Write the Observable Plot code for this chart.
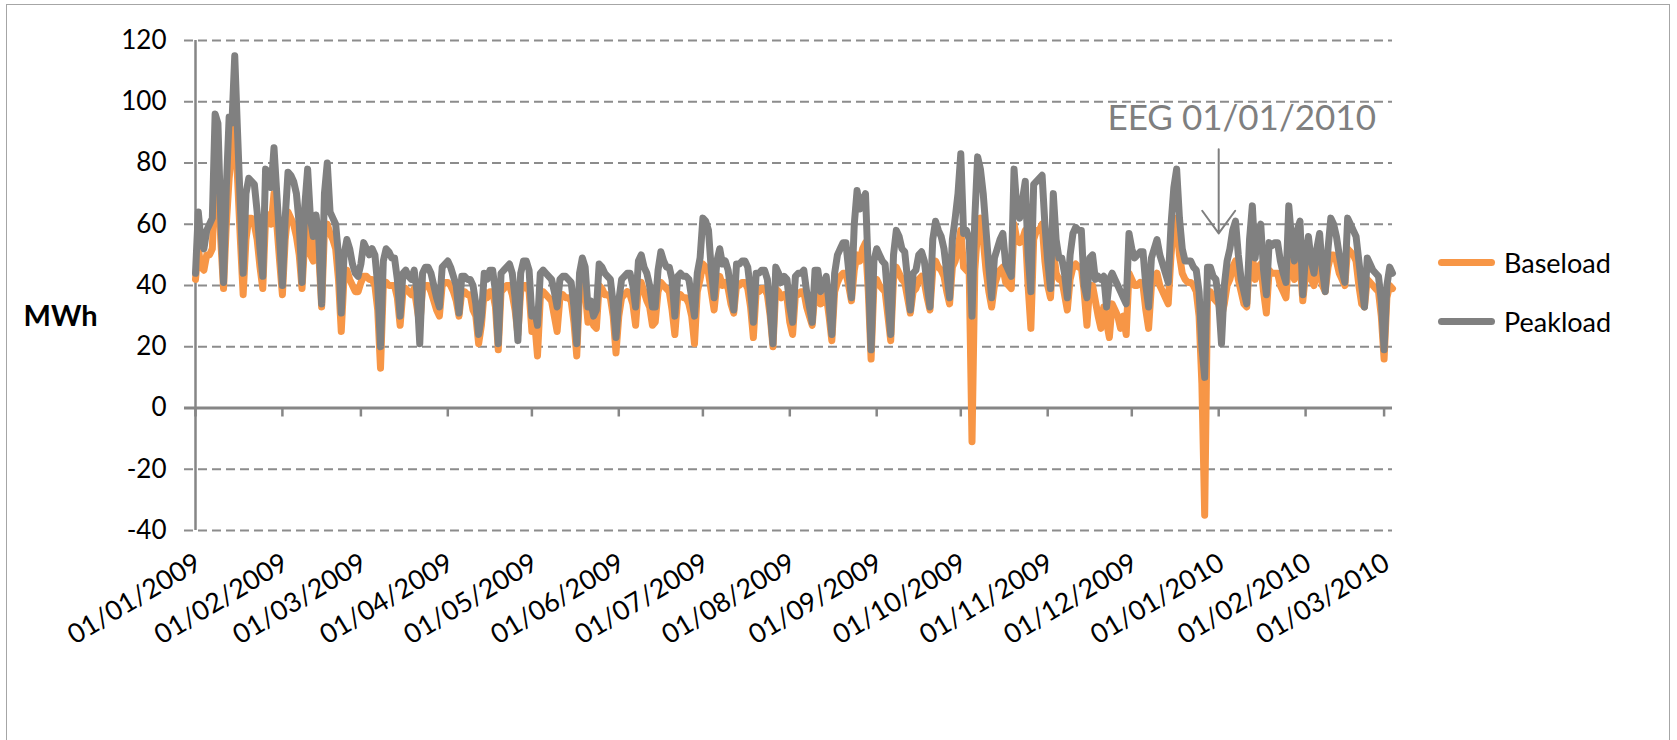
<!DOCTYPE html>
<html>
<head>
<meta charset="utf-8">
<script src="https://cdn.jsdelivr.net/npm/d3@7"></script>
<script src="https://cdn.jsdelivr.net/npm/@observablehq/plot@0.6"></script>
<style>
  html, body { margin: 0; padding: 0; background: #fff; }
  #wrap { position: relative; width: 1677px; height: 740px; overflow: hidden; font-family: Lato, "Noto Sans", sans-serif; }
  #frame { position: absolute; left: 6px; top: 4px; width: 1664px; height: 780px; border: 1.5px solid #a6a6a6; box-sizing: border-box; }
  #chart { position: absolute; left: 0; top: 0; }
  .leg { position: absolute; left: 1438px; display: flex; align-items: center; font-size: 27px; color: #000; }
  .leg .sw { width: 57px; height: 7px; border-radius: 3.5px; margin-right: 9px; }
</style>
</head>
<body>
<div id="wrap">
  <div id="frame"></div>
  <div id="chart"></div>
  <div id="legend"></div>
</div>
<script>
// ---- data (daily, from 01/01/2009) ----
const startDay = "2009-01-01";
const seriesNames = ["Baseload", "Peakload"];
const seriesColors = ["#F79646", "#808080"];

const baseload = [
  42, 52, 46, 45,
  50, 50, 52, 75, 78, 55, 39,
  60, 75, 85, 92, 75, 55, 37,
  55, 62, 62, 60, 55, 46, 39,
  62, 63, 60, 70, 60, 48, 37,
  55, 64, 62, 60, 56, 50, 39,
  55, 60, 50, 48, 55, 50, 33,
  58, 60, 57, 55, 52, 42, 25,
  43, 45, 42, 40, 38, 38, 41,
  43, 43, 42, 42, 40, 32, 13,
  40, 41, 40, 40, 40, 36, 27,
  38, 39, 38, 37, 39, 33, 27,
  39, 40, 40, 38, 35, 32, 30,
  40, 41, 41, 40, 38, 35, 30,
  38, 38, 37, 37, 32, 30, 21,
  27, 38, 36, 38, 38, 33, 19,
  38, 39, 40, 40, 37, 32, 24,
  38, 40, 40, 38, 25, 28, 17,
  36, 38, 37, 36, 35, 30, 25,
  36, 37, 36, 36, 35, 28, 17,
  38, 40, 38, 28, 30, 27, 26,
  40, 39, 37, 37, 36, 30, 18,
  30, 36, 37, 38, 37, 34, 27,
  40, 41, 38, 35, 33, 27, 28,
  38, 41, 40, 39, 38, 32, 24,
  36, 37, 36, 36, 34, 30, 21,
  38, 42, 47, 46, 44, 38, 32,
  41, 43, 40, 41, 39, 34, 31,
  40, 40, 41, 41, 39, 33, 23,
  38, 38, 39, 39, 37, 30, 20,
  39, 38, 36, 37, 36, 28, 24,
  37, 37, 38, 38, 33, 30, 27,
  38, 38, 34, 35, 37, 30, 22,
  38, 41, 43, 44, 44, 40, 35,
  45, 50, 48, 52, 54, 38, 16,
  40, 42, 40, 39, 38, 30, 22,
  42, 46, 44, 42, 41, 36, 31,
  38, 39, 42, 43, 41, 36, 32,
  45, 48, 46, 45, 43, 38, 34,
  46, 48, 52, 58, 46, 45, 44, -11, 45, 58, 62, 55, 45, 38, 33,
  40, 43, 45, 46, 41, 40, 39,
  60, 55, 54, 55, 58, 40, 26,
  55, 58, 58, 60, 48, 40, 36,
  52, 44, 42, 42, 37, 32,
  42, 46, 47, 46, 46, 38, 27,
  40, 40, 35, 30, 26, 33, 28,
  23, 34, 32, 30, 26, 30, 24,
  44, 42, 40, 40, 41, 40, 32, 26,
  40, 42, 44, 40, 38, 36, 34,
  50, 60, 62, 50, 44, 42, 41, 41, 40, 38, 30, 8, -35,
  36, 38, 36, 35, 34, 30, 34, 40, 42, 46, 48,
  42, 38, 34, 33,
  48, 50, 42, 46, 47, 38, 31,
  45, 44, 44, 44, 40, 38, 36,
  50, 45, 42, 47, 48, 35,
  44, 46, 42, 40, 44, 46, 40, 38,
  46, 50, 50, 48, 44, 42, 40,
  52, 51, 50, 48, 40, 34, 33,
  42, 41, 40, 39, 38, 30, 16,
  36, 40, 39
];

const peakload = [
  44, 64, 54, 52,
  58, 60, 62, 96, 93, 62, 41,
  72, 95, 93, 115, 90, 66, 44,
  70, 75, 74, 73, 64, 52, 43,
  78, 77, 72, 85, 70, 55, 40,
  62, 77, 76, 74, 70, 60, 41,
  66, 78, 62, 56, 63, 55, 34,
  70, 80, 64, 62, 60, 50, 31,
  50, 55, 52, 47, 44, 43, 47,
  54, 52, 50, 52, 50, 40, 20,
  48, 52, 51, 49, 49, 42, 30,
  44, 45, 43, 42, 45, 38, 21,
  44, 46, 46, 44, 40, 36, 33,
  46, 47, 48, 46, 43, 40, 31,
  43, 43, 42, 42, 40, 34, 24,
  30, 44, 42, 45, 45, 38, 21,
  44, 45, 46, 47, 44, 36, 22,
  44, 48, 48, 45, 30, 32, 27,
  44, 45, 44, 43, 42, 38, 33,
  42, 43, 43, 42, 41, 33, 21,
  44, 49, 46, 33, 35, 30, 32,
  47, 46, 44, 43, 42, 34, 23,
  35, 42, 43, 44, 44, 40, 33,
  48, 50, 46, 44, 40, 33, 33,
  45, 51, 48, 46, 46, 42, 30,
  43, 44, 43, 43, 42, 36, 30,
  44, 49, 62, 61, 58, 45, 36,
  48, 52, 47, 48, 45, 38, 32,
  47, 47, 48, 48, 46, 38, 28,
  44, 44, 45, 45, 42, 32, 21,
  46, 44, 41, 43, 42, 33, 28,
  43, 44, 44, 45, 38, 33, 28,
  45, 45, 38, 40, 43, 34, 24,
  44, 50, 52, 54, 54, 45, 36,
  60, 71, 65, 68, 70, 45, 19,
  48, 52, 50, 48, 47, 35, 24,
  50, 58, 56, 52, 51, 42, 32,
  44, 45, 50, 51, 48, 40, 33,
  55, 61, 58, 56, 52, 44, 36,
  55, 62, 70, 83, 57, 58, 55, 30, 62, 82, 78, 70, 58, 46, 36,
  49, 52, 55, 57, 47, 45, 43,
  78, 65, 62, 68, 74, 50, 38,
  73, 74, 75, 76, 60, 48, 39,
  70, 55, 49, 49, 44, 36,
  50, 57, 59, 58, 58, 40, 36,
  49, 50, 42, 43, 42, 43, 33,
  42, 44, 42, 40, 38, 36, 34,
  57, 52, 49, 50, 51, 51, 40, 33,
  49, 52, 55, 50, 47, 44, 41,
  60, 72, 78, 62, 52, 48, 48, 48, 46, 45, 38, 20, 10,
  46, 46, 43, 42, 35, 21, 40, 48, 52, 58, 61,
  50, 42, 38, 34,
  55, 66, 49, 58, 60, 45, 37,
  54, 53, 54, 54, 48, 44, 41,
  66, 55, 48, 58, 61, 37,
  50, 56, 48, 44, 52, 57, 45, 38,
  52, 62, 60, 56, 50, 45, 41,
  62, 60, 58, 56, 48, 40, 33,
  49, 47, 45, 44, 43, 35, 19,
  40, 46, 44
];

const monthTicks = [
  "2009-01-01", "2009-02-01", "2009-03-01", "2009-04-01", "2009-05-01",
  "2009-06-01", "2009-07-01", "2009-08-01", "2009-09-01", "2009-10-01",
  "2009-11-01", "2009-12-01", "2010-01-01", "2010-02-01", "2010-03-01"
];
const yTicks = [-40, -20, 0, 20, 40, 60, 80, 100, 120];
const yLabel = "MWh";
const annotations = [{ date: "2010-01-01", text: "EEG 01/01/2010" }];

// ---- build ----
const parse = d3.utcParse("%Y-%m-%d");
const start = parse(startDay);
const dates = baseload.map((_, i) => d3.utcDay.offset(start, i));
const baseRows = dates.map((d, i) => ({ date: d, value: baseload[i] }));
const peakRows = dates.map((d, i) => ({ date: d, value: peakload[i] }));
const months = monthTicks.map(parse);
const ann = annotations.map(a => ({ date: parse(a.date), text: a.text }));

const gridColor = "#8c8c8c";
const axisColor = "#868686";

const chart = Plot.plot({
  width: 1677,
  height: 740,
  marginLeft: 195,
  marginRight: 285,
  marginTop: 40,
  marginBottom: 210,
  style: { fontFamily: "Lato, 'Noto Sans', sans-serif", background: "transparent", overflow: "visible" },
  x: { type: "utc", domain: [start, dates[dates.length - 1]] },
  y: { domain: [-40, 120] },
  marks: [
    Plot.ruleY(yTicks.filter(v => v !== 0), { stroke: gridColor, strokeWidth: 2, strokeDasharray: "9,5", insetLeft: -11 }),
    Plot.ruleX([start], { stroke: axisColor, strokeWidth: 2.5 }),
    Plot.ruleY([0], { stroke: axisColor, strokeWidth: 3, insetLeft: -11 }),
    Plot.ruleX(months, { y1: 0, y2: 0, insetBottom: -9, stroke: axisColor, strokeWidth: 2.5 }),
    Plot.axisY({ ticks: yTicks, tickFormat: d => String(d), tickSize: 0, tickPadding: 29, fontSize: 26, label: null, color: "#000" }),
    Plot.axisX({ ticks: months, tickFormat: d3.utcFormat("%d/%m/%Y"), tickRotate: -31, tickSize: 0, tickPadding: 30, dx: 3, fontSize: 27, label: null, color: "#000" }),
    Plot.text([yLabel], { frameAnchor: "left", dx: -172, dy: 31, textAnchor: "start", fontWeight: "bold", fontSize: 29, fill: "#000" }),
    Plot.line(baseRows, { x: "date", y: "value", stroke: seriesColors[0], strokeWidth: 7, strokeLinejoin: "round", strokeLinecap: "round" }),
    Plot.line(peakRows, { x: "date", y: "value", stroke: seriesColors[1], strokeWidth: 7, strokeLinejoin: "round", strokeLinecap: "round" }),
    Plot.arrow(ann, { x1: "date", x2: "date", y1: 84.5, y2: 57, stroke: "#7f7f7f", strokeWidth: 2, headLength: 22, headAngle: 72 }),
    Plot.text(ann, { x: "date", text: "text", frameAnchor: "top", dy: 89, dx: 23, textAnchor: "middle", lineAnchor: "bottom", fontSize: 35, fill: "#7f7f7f" })
  ]
});
document.getElementById("chart").appendChild(chart);

const legend = document.getElementById("legend");
const legTops = [262, 321];
seriesNames.forEach((name, i) => {
  const item = document.createElement("div");
  item.className = "leg";
  item.style.top = (legTops[i] - 16) + "px";
  item.style.height = "32px";
  item.innerHTML = `<span class="sw" style="background:${seriesColors[i]}"></span><span>${name}</span>`;
  legend.appendChild(item);
});
</script>
</body>
</html>
